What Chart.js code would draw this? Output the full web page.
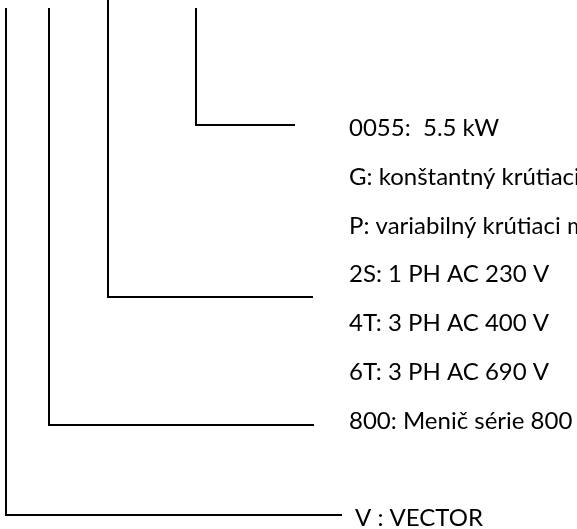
<!DOCTYPE html>
<html>
<head>
<meta charset="utf-8">
<script src="https://cdn.jsdelivr.net/npm/chart.js@4"></script>
<style>
  html, body { margin: 0; padding: 0; background: #fff; }
</style>
</head>
<body>
<canvas id="myChart" width="577" height="529"></canvas>
<script>
// code parts, left to right (one bracket line each)
const partNames = ['V', '800', '4T', '0055'];
const bracketX = [6, 49, 108, 196];      // vertical stem position
const bracketTop = [8, 8, 0, 8];         // where each stem starts
const bracketY = [515, 425, 297, 125];   // level of the horizontal leg
const bracketEnd = [342, 314, 313, 295]; // where the horizontal leg stops

// explanation texts and their rows
const labelTexts = [
    '0055:  5.5 kW',
    'G: konštantný krútiaci moment',
    'P: variabilný krútiaci moment',
    '2S: 1 PH AC 230 V',
    '4T: 3 PH AC 400 V',
    '6T: 3 PH AC 690 V',
    '800: Menič série 800',
    'V : VECTOR'
];
const labelY = [128, 177, 226, 274, 323, 372, 421, 518];
const labelX = [349, 349, 349, 349, 349, 349, 349, 355];

const datasets = partNames.map((name, i) => ({
    label: name,
    data: [
        { x: bracketX[i], y: bracketTop[i] },
        { x: bracketX[i], y: bracketY[i] },
        { x: bracketEnd[i], y: bracketY[i] }
    ],
    showLine: true,
    borderColor: '#000',
    borderWidth: 2,
    pointRadius: 0,
    tension: 0,
    fill: false
}));

// writes the explanation texts next to the brackets
const labelPlugin = {
    id: 'labels',
    afterDatasetsDraw(chart) {
        const ctx = chart.ctx;
        const xs = chart.scales.x;
        const ys = chart.scales.y;
        ctx.save();
        ctx.fillStyle = '#000';
        ctx.font = '24px Lato';
        ctx.textBaseline = 'middle';
        labelTexts.forEach((t, i) => {
            ctx.fillText(t, xs.getPixelForValue(labelX[i]), ys.getPixelForValue(labelY[i]));
        });
        ctx.restore();
    }
};

new Chart(document.getElementById('myChart'), {
    type: 'scatter',
    data: { datasets: datasets },
    options: {
        responsive: false,
        animation: false,
        layout: { padding: 0 },
        plugins: {
            legend: { display: false },
            tooltip: { enabled: false }
        },
        scales: {
            x: { type: 'linear', min: 0, max: 577, display: false },
            y: { type: 'linear', min: 0, max: 529, reverse: true, display: false }
        }
    },
    plugins: [labelPlugin]
});
</script>
</body>
</html>
